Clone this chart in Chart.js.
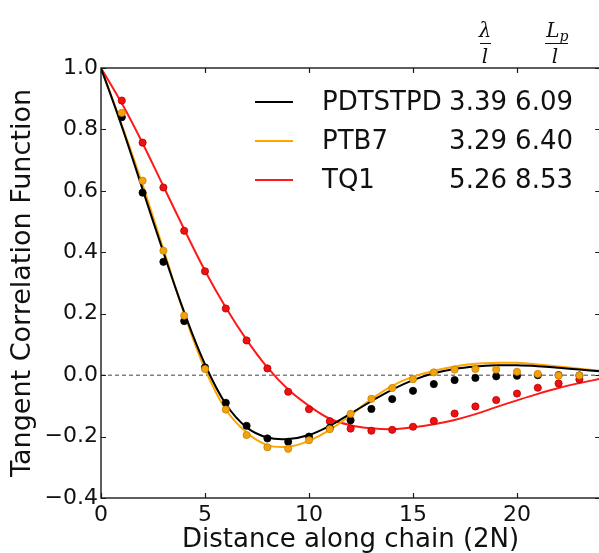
<!DOCTYPE html>
<html>
<head>
<meta charset="utf-8">
<script src="https://cdn.jsdelivr.net/npm/chart.js@4"></script>
<style>
  html, body { margin: 0; padding: 0; background: #fff; overflow: hidden; }
  #wrap { width: 605px; height: 553px; }
</style>
</head>
<body>
<div id="wrap"><canvas id="tcf"></canvas></div>
<script>
// fitted curves, sampled every 2N unit
const fitX = [0, 1, 2, 3, 4, 5, 6, 7, 8, 9, 10, 11, 12, 13, 14, 15, 16, 17, 18, 19, 20, 21, 22, 23, 24];
const fitPDTSTPD = [1.0, 0.81, 0.605, 0.40, 0.205, 0.035, -0.094, -0.17, -0.203, -0.208, -0.195, -0.165, -0.125, -0.085, -0.047, -0.016, 0.006, 0.02, 0.028, 0.032, 0.032, 0.029, 0.024, 0.018, 0.013];
const fitPTB7 = [1.0, 0.815, 0.62, 0.41, 0.2, 0.02, -0.112, -0.187, -0.228, -0.233, -0.214, -0.178, -0.13, -0.078, -0.035, -0.005, 0.014, 0.028, 0.037, 0.04, 0.04, 0.035, 0.028, 0.021, 0.014];
const fitTQ1 = [1.0, 0.885, 0.755, 0.615, 0.475, 0.34, 0.22, 0.115, 0.025, -0.047, -0.1, -0.142, -0.163, -0.173, -0.176, -0.17, -0.16, -0.146, -0.127, -0.104, -0.082, -0.061, -0.042, -0.026, -0.012];

// simulation points
const simX = [1, 2, 3, 4, 5, 6, 7, 8, 9, 10, 11, 12, 13, 14, 15, 16, 17, 18, 19, 20, 21, 22, 23];
const simPDTSTPD = [0.84, 0.594, 0.369, 0.176, 0.025, -0.09, -0.165, -0.206, -0.217, -0.2, -0.172, -0.147, -0.11, -0.078, -0.051, -0.029, -0.016, -0.009, -0.004, -0.002, 0.0, 0.0, -0.001];
const simPTB7 = [0.854, 0.633, 0.405, 0.194, 0.02, -0.112, -0.195, -0.235, -0.24, -0.212, -0.176, -0.126, -0.077, -0.042, -0.013, 0.009, 0.018, 0.02, 0.018, 0.011, 0.004, -0.001, -0.001];
const simTQ1 = [0.894, 0.757, 0.611, 0.47, 0.338, 0.217, 0.113, 0.022, -0.054, -0.111, -0.15, -0.174, -0.181, -0.178, -0.168, -0.149, -0.125, -0.102, -0.081, -0.06, -0.041, -0.027, -0.014];

// legend table
const polymers = ['PDTSTPD', 'PTB7', 'TQ1'];
const lambdaVals = ['3.39', '3.29', '5.26'];
const lpVals = ['6.09', '6.40', '8.53'];
const lineColors = ['#000000', '#ffa500', '#ff1a1a'];
const dotColors = ['#000000', '#f2a20c', '#ee1111'];
const dotEdges = ['#000000', '#c98300', '#b80000'];

const xTicks = [0, 5, 10, 15, 20];
const yTicks = [-0.4, -0.2, 0.0, 0.2, 0.4, 0.6, 0.8, 1.0];

const pts = (xs, ys) => xs.map((x, i) => ({ x: x, y: ys[i] }));

const FONT = "'DejaVu Sans', sans-serif";

const fitSets = [fitPDTSTPD, fitPTB7, fitTQ1];
const simSets = [simPDTSTPD, simPTB7, simTQ1];

const datasets = [];
// dots on top: orange, black, red
[1, 0, 2].forEach((k, i) => {
    datasets.push({
        type: 'scatter',
        data: pts(simX, simSets[k]),
        backgroundColor: dotColors[k],
        borderColor: dotEdges[k],
        borderWidth: 0.8,
        pointRadius: 3.6,
        order: i
    });
});
// fit lines: black over orange over red
[0, 1, 2].forEach((k, i) => {
    datasets.push({
        type: 'line',
        data: pts(fitX, fitSets[k]),
        borderColor: lineColors[k],
        borderWidth: 2,
        pointRadius: 0,
        tension: 0.4,
        fill: false,
        order: 10 + i
    });
});
// zero reference
datasets.push({
    type: 'line',
    data: pts([0, 24], [0, 0]),
    borderColor: '#808080',
    borderWidth: 1.5,
    borderDash: [4, 3],
    pointRadius: 0,
    order: 20
});

const framePlugin = {
    id: 'frame',
    afterDatasetsDraw(chart) {
        const { ctx, chartArea: a, scales: { x, y } } = chart;
        ctx.save();
        ctx.strokeStyle = '#1a1a1a';
        ctx.lineWidth = 1.4;
        ctx.strokeRect(a.left, a.top, a.right - a.left, a.bottom - a.top);
        ctx.lineWidth = 1.2;
        ctx.beginPath();
        xTicks.forEach(v => {
            const px = Math.round(x.getPixelForValue(v)) + 0.5;
            ctx.moveTo(px, a.bottom); ctx.lineTo(px, a.bottom - 5);
            ctx.moveTo(px, a.top); ctx.lineTo(px, a.top + 5);
        });
        yTicks.forEach(v => {
            const py = Math.round(y.getPixelForValue(v)) + 0.5;
            ctx.moveTo(a.left, py); ctx.lineTo(a.left + 5, py);
            ctx.moveTo(a.right, py); ctx.lineTo(a.right - 5, py);
        });
        ctx.stroke();
        ctx.restore();
    },
    afterDraw(chart) {
        const ctx = chart.ctx;
        ctx.save();
        const rows = [102, 141, 180];
        ctx.font = '26px ' + FONT;
        ctx.textBaseline = 'middle';
        rows.forEach((ry, i) => {
            ctx.strokeStyle = lineColors[i];
            ctx.lineWidth = 2;
            ctx.beginPath();
            ctx.moveTo(255, ry); ctx.lineTo(293, ry);
            ctx.stroke();
            ctx.fillStyle = '#111';
            ctx.textAlign = 'left';
            ctx.fillText(polymers[i], 322, ry + 1);
            ctx.textAlign = 'right';
            ctx.fillText(lambdaVals[i], 507, ry + 1);
            ctx.fillText(lpVals[i], 573, ry + 1);
        });
        // column headers
        ctx.fillStyle = '#111';
        ctx.strokeStyle = '#111';
        ctx.lineWidth = 1.2;
        ctx.textAlign = 'center';
        ctx.textBaseline = 'alphabetic';
        ctx.font = "italic 20px 'DejaVu Serif', serif";
        ctx.fillText('λ', 485, 37);
        ctx.fillText('l', 485, 63);
        ctx.fillText('L', 553, 37);
        ctx.font = "italic 14px 'DejaVu Serif', serif";
        ctx.fillText('p', 564, 41);
        ctx.font = "italic 20px 'DejaVu Serif', serif";
        ctx.fillText('l', 555, 63);
        ctx.beginPath();
        ctx.moveTo(480, 43.5); ctx.lineTo(491, 43.5);
        ctx.moveTo(545, 43.5); ctx.lineTo(568, 43.5);
        ctx.stroke();
        ctx.restore();
    }
};

new Chart(document.getElementById('tcf'), {
    type: 'scatter',
    data: { datasets: datasets },
    options: {
        responsive: true,
        maintainAspectRatio: false,
        animation: false,
        layout: { padding: { top: 68, right: 3, left: 0, bottom: 0 } },
        plugins: {
            legend: { display: false },
            tooltip: { enabled: false }
        },
        scales: {
            x: {
                type: 'linear',
                min: 0,
                max: 24,
                grid: { display: false, drawTicks: false },
                border: { display: false },
                afterFit: s => { s.height = 55; },
                ticks: {
                    stepSize: 5,
                    includeBounds: false,
                    padding: 4,
                    color: '#111',
                    font: { family: FONT, size: 22 },
                    maxRotation: 0
                },
                title: {
                    display: true,
                    text: 'Distance along chain (2N)',
                    color: '#111',
                    font: { family: FONT, size: 26, lineHeight: 1 },
                    padding: 0
                }
            },
            y: {
                type: 'linear',
                min: -0.4,
                max: 1.0,
                grid: { display: false, drawTicks: false },
                border: { display: false },
                afterFit: s => { s.width = 101; },
                afterBuildTicks: s => { s.ticks = yTicks.map(v => ({ value: v })); },
                ticks: {
                    padding: 3,
                    color: '#111',
                    font: { family: FONT, size: 22 },
                    callback: v => v.toFixed(1).replace('-', '\u2212')
                },
                title: {
                    display: true,
                    text: 'Tangent Correlation Function',
                    color: '#111',
                    font: { family: FONT, size: 27, lineHeight: 1 },
                    padding: { top: 9, bottom: 0 }
                }
            }
        }
    },
    plugins: [framePlugin]
});
</script>
</body>
</html>
